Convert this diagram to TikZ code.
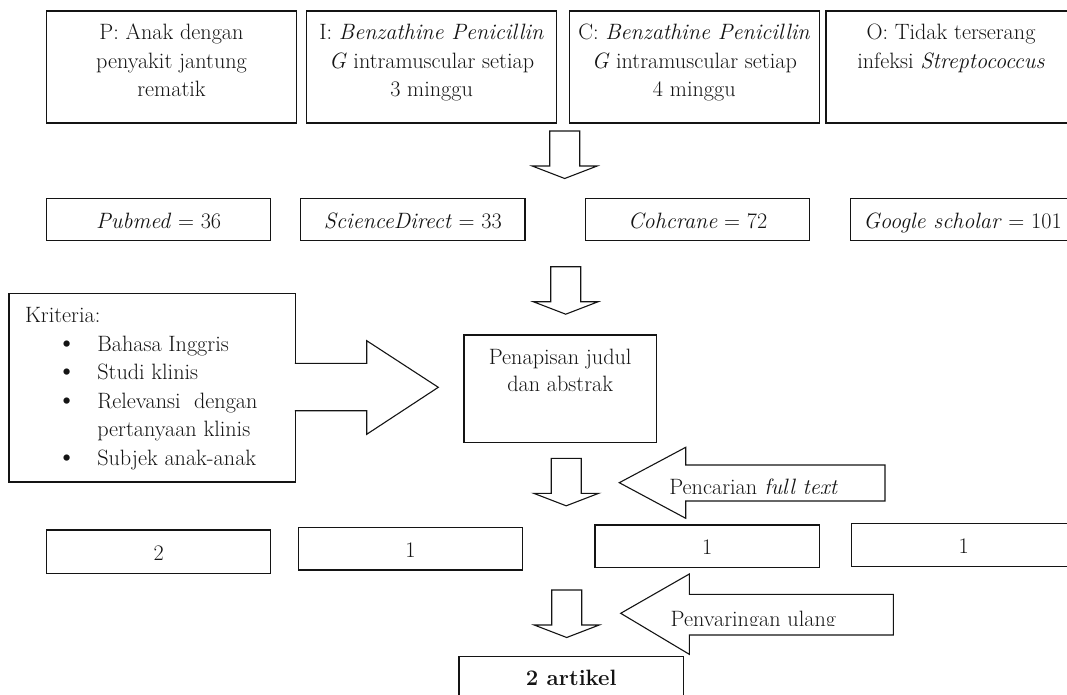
\documentclass[tikz,border=0pt]{standalone}
\definecolor{ink}{RGB}{20,20,20}
\newcommand\fs{\fontsize{22.2}{28.3}\selectfont}
\newcommand\fk{\fontsize{22.2}{28.5}\selectfont}
\newcommand\bul{\makebox[20pt][c]{\fontsize{28}{28}\selectfont\textbullet}}
\begin{document}
\begin{tikzpicture}[x=1pt,y=1pt,
  box/.style={draw=ink, line width=1.1pt, fill=white, inner sep=0pt, outer sep=0pt, anchor=north west},
  txt/.style={inner sep=0pt, outer sep=0pt, anchor=base, text=ink, font=\fs},
  arr/.style={draw=ink, line width=1.1pt, fill=white, line join=miter},
  downarr/.pic={\path[arr] (-15,0) -- (-15,-35) -- (-32.5,-35) -- (0,-47.5) -- (32.5,-35) -- (15,-35) -- (15,0) -- cycle;}
]
\useasboundingbox (0,0) rectangle (1067,-695);
\clip (0,0) rectangle (1067,-695);

% ---- PICO row
\node[box, minimum width=250pt, minimum height=112pt] (P) at (46.5,-11) {};
\node[box, minimum width=250.2pt, minimum height=112pt] (I) at (306.5,-11) {};
\node[box, minimum width=250pt, minimum height=112pt] (C) at (569.3,-11) {};
\node[box, minimum width=250pt, minimum height=112pt] (O) at (826,-11) {};
\node[txt] (Pt) at (171.5,-40) {\parbox[t]{250pt}{\centering\fs P: Anak dengan\\penyakit jantung\\rematik}};
\node[txt] (It) at (431.6,-40) {\parbox[t]{250pt}{\centering\fs I: \textit{Benzathine Penicillin}\\\textit{G} intramuscular setiap\\3 minggu}};
\node[txt] (Ct) at (694.3,-40) {\parbox[t]{250pt}{\centering\fs C: \textit{Benzathine Penicillin}\\\textit{G} intramuscular setiap\\4 minggu}};
\node[txt] (Ot) at (951,-40) {\parbox[t]{250pt}{\centering\fs O: Tidak terserang\\infeksi \textit{Streptococcus}}};

\pic (a1) at (564.7,-131) {downarr};

% ---- databases
\node[box, minimum width=224pt, minimum height=42.4pt] (pub) at (46.7,-198.3) {};
\node[box, minimum width=224.3pt, minimum height=42.4pt] (sd) at (300.7,-198.3) {};
\node[box, minimum width=224pt, minimum height=42.4pt] (coc) at (585.7,-198.3) {};
\node[box, minimum width=224pt, minimum height=42.4pt] (gs) at (850.5,-198.3) {};
\node[txt] (pubt) at (158.7,-228.3) {\textit{Pubmed} = 36};
\node[txt] (sdt) at (412.8,-228.3) {\textit{ScienceDirect} = 33};
\node[txt] (coct) at (697.7,-228.3) {\textit{Cohcrane} = 72};
\node[txt] (gst) at (962.5,-228.3) {\textit{Google scholar} = 101};

\pic (a2) at (565.7,-266.7) {downarr};

% ---- criteria + screening
\node[box, minimum width=286.3pt, minimum height=188.7pt] (K) at (9,-293.3) {};
\node[txt, anchor=base west] (Kt) at (25,-322.7) {\parbox[t]{270pt}{\fk Kriteria:\\
\hspace*{31.7pt}\bul\hspace*{20.6pt}Bahasa Inggris\\
\hspace*{31.7pt}\bul\hspace*{20.6pt}Studi klinis\\
\hspace*{31.7pt}\bul\hspace*{20.6pt}Relevansi\ \ dengan\\
\hspace*{72.3pt}pertanyaan klinis\\
\hspace*{31.7pt}\bul\hspace*{20.6pt}Subjek anak-anak}};
\fill[white] (294,-363.3) rectangle (297,-410.7);
\path[arr] (294.8,-363.3) -- (366.7,-363.3) -- (366.7,-340.7) -- (438.3,-387.3) -- (366.7,-434.3) -- (366.7,-410.7) -- (294.8,-410.7);

\node[box, minimum width=192.3pt, minimum height=107.7pt] (pen) at (464,-335) {};
\node[txt] (pent) at (560.2,-364.3) {\parbox[t]{190pt}{\centering\fontsize{22.2}{27.4}\selectfont Penapisan judul\\dan abstrak}};

\pic (a3) at (566.2,-458.3) {downarr};

% ---- full text search arrow
\path[arr] (885,-465) -- (685.7,-465) -- (685.7,-447.3) -- (619.3,-482.7) -- (685.7,-518.3) -- (685.7,-501) -- (885,-501) -- cycle;
\begin{scope}
\clip (600,-440) rectangle (900,-493.6);
\node[txt, anchor=base west] (pct) at (669.3,-494.6) {Pencarian \textit{full text}};
\end{scope}

% ---- results
\node[box, minimum width=224pt, minimum height=43.3pt] (r1) at (46.7,-530) {};
\node[box, minimum width=224.4pt, minimum height=42.7pt] (r2) at (298.3,-527.3) {};
\node[box, minimum width=224.3pt, minimum height=42.7pt] (r3) at (595,-525) {};
\node[box, minimum width=224.3pt, minimum height=43.4pt] (r4) at (851.7,-523.3) {};
\node[txt] (r1t) at (158.7,-560) {2};
\node[txt] (r2t) at (410.5,-557.3) {1};
\node[txt] (r3t) at (707.2,-554.5) {1};
\node[txt] (r4t) at (963.8,-553) {1};

\pic (a4) at (566.7,-590) {downarr};

% ---- re-screening arrow
\path[arr] (893.3,-594.3) -- (689.3,-594.3) -- (689.3,-574) -- (620.7,-613.3) -- (689.3,-654.3) -- (689.3,-635) -- (893.3,-635) -- cycle;
\begin{scope}
\clip (600,-560) rectangle (900,-625.2);
\node[txt, anchor=base west] (pyt) at (670.7,-626.3) {Penyaringan ulang};
\end{scope}

% ---- final
\node[box, minimum width=224.3pt, minimum height=80pt] (fin) at (459,-656.7) {};
\node[txt, font=\fs\bfseries] (fint) at (571.2,-685) {2 artikel};
\end{tikzpicture}
\end{document}
